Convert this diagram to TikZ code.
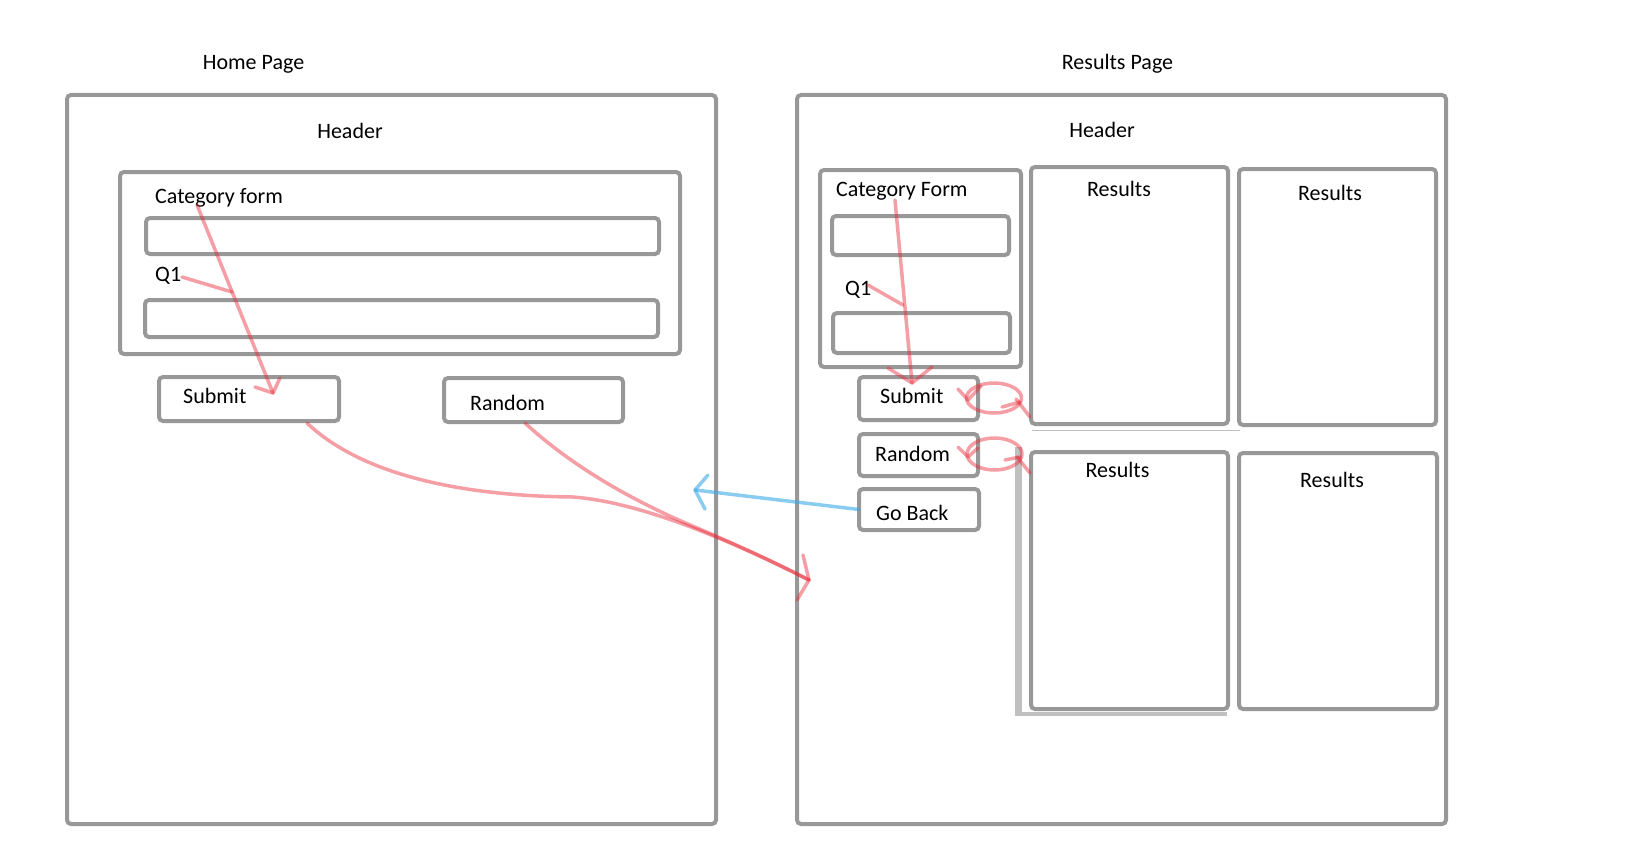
\documentclass[tikz,border=0pt]{standalone}
\usepackage{fontspec}
\setmainfont{Carlito}
\usetikzlibrary{calc}
\definecolor{pencil}{RGB}{152,152,152}
\definecolor{shadowgrey}{RGB}{192,192,192}
\definecolor{ink}{RGB}{232,40,55}
\definecolor{sky}{RGB}{60,170,230}
\begin{document}
\begin{tikzpicture}[x=1pt,y=-1pt,
  box/.style={draw=pencil,line width=4pt,rounded corners=4pt,inner sep=0pt,outer sep=0pt,anchor=north west},
  txt/.style={font=\fontsize{22}{26}\selectfont,inner sep=0pt,anchor=base west},
  ctxt/.style={txt,anchor=base},
  redpen/.style={draw=ink,draw opacity=0.45,line width=3.5pt,line cap=round,line join=round},
  bluepen/.style={draw=sky,draw opacity=0.6,line width=3.5pt,line cap=round,line join=round}]
\useasboundingbox (0,0) rectangle (1634,851);

% ---------- Home page ----------
\node[ctxt] (hometitle) at (253.5,69.5) {Home Page};
\node[box,minimum width=649pt,minimum height=729pt] (home) at (67,95) {};
\node[ctxt] (hhead) at (350,139) {Header};
\node[box,minimum width=560pt,minimum height=182pt] (hform) at (120,172) {};
\node[txt] (hformlbl) at (155,203) {Category form};
\node[box,minimum width=513pt,minimum height=36pt] (hin1) at (146,218) {};
\node[txt] (hq1) at (155,281.5) {Q1};
\node[box,minimum width=513pt,minimum height=37pt] (hin2) at (145,300) {};
\node[box,minimum width=180pt,minimum height=44pt] (hsub) at (159,377) {};
\node[txt] at (183,403) {Submit};
\node[box,minimum width=179pt,minimum height=44pt] (hrnd) at (444,378) {};
\node[txt] at (470,410) {Random};

% ---------- Results page ----------
\node[ctxt] (restitle) at (1117.5,70) {Results Page};
\node[box,minimum width=649pt,minimum height=729pt] (res) at (797,95) {};
\node[ctxt] (rhead) at (1102,137) {Header};
\node[box,minimum width=201pt,minimum height=197pt] (rform) at (820,170) {};
\node[txt] (rformlbl) at (836,196.5) {Category Form};
\node[box,minimum width=177pt,minimum height=39pt] (rin1) at (832,216) {};
\node[txt] (rq1) at (845,295) {Q1};
\node[box,minimum width=177pt,minimum height=40pt] (rin2) at (833,313) {};
\node[box,minimum width=119pt,minimum height=43pt] (rsub) at (859,377) {};
\node[txt] at (880,403) {Submit};
\node[box,minimum width=119pt,minimum height=42pt] (rrnd) at (859,434) {};
\node[txt] at (875,461.5) {Random};
\node[box,minimum width=120pt,minimum height=41pt] (rback) at (859,489) {};
\node[txt] at (876,520) {Go Back};

% result cards, with the grey shadow behind the lower-left one
\fill[shadowgrey] (1015,447) rectangle (1022,716);
\fill[shadowgrey] (1015,712) rectangle (1227,716);
\draw[shadowgrey,line width=1.5pt] (1032,430.5) -- (1240,430.5);
\node[box,minimum width=197pt,minimum height=257pt] (card1) at (1031,167) {};
\node[ctxt] at (1119,196.5) {Results};
\node[box,minimum width=197pt,minimum height=256pt] (card2) at (1239,169) {};
\node[ctxt] at (1330,200.5) {Results};
\node[box,minimum width=197pt,minimum height=257pt] (card3) at (1031,452) {};
\node[ctxt] at (1117.5,477) {Results};
\node[box,minimum width=198pt,minimum height=256pt] (card4) at (1239,453) {};
\node[ctxt] at (1332,487.5) {Results};

% ---------- red pen flow marks ----------
% home page: form fields into Submit
\coordinate (hfs) at (197,205);
\coordinate (hft) at (273,393);
\draw[redpen] (hfs) -- (hft);
\draw[redpen] (255,387) -- (hft) -- (280,378);
\draw[redpen] (182,277) -- (232,292);

% results page: form fields into Submit
\coordinate (rfs) at (895,200);
\coordinate (rft) at (912,383);
\draw[redpen] (rfs) -- (rft);
\draw[redpen] (888,368) -- (rft) -- (932,367);
\draw[redpen] (868,285) -- (903,305);

% Submit and Random lead over to the results page
\coordinate (subout) at (307,423);
\coordinate (rndout) at (525,423);
\coordinate (land) at (809,580);
\draw[redpen] (subout) .. controls (365,478) and (470,496) .. (573,497)
  .. controls (640,502) and (730,540) .. (land);
\draw[redpen] (rndout) .. controls (565,460) and (620,495) .. (690,525)
  .. controls (740,546) and (780,565) .. (land);
\draw[redpen] (803,555) -- (land) -- (797,600);

% curly arrows from the result cards back to the buttons
\coordinate (c1tail) at (1030,417);
\draw[redpen] (994,398) ellipse [x radius=27.5pt, y radius=15pt];
\draw[redpen] (c1tail) -- (1016,399);
\draw[redpen] (1002,407) -- (1020,402);
\draw[redpen] (958,389) -- (968,400) -- (981,386);

\coordinate (c3tail) at (1030,473);
\draw[redpen] (994.5,454) ellipse [x radius=27.5pt, y radius=16pt];
\draw[redpen] (c3tail) -- (1017,457);
\draw[redpen] (1005,460) -- (1020,457);
\draw[redpen] (958,447) -- (968,457) -- (978,448);

% ---------- Go Back returns home ----------
\coordinate (backtip) at (695,490);
\draw[bluepen] (rback.west) -- (backtip);
\draw[bluepen] (708,475) -- (backtip) -- (705,509);
\end{tikzpicture}
\end{document}
